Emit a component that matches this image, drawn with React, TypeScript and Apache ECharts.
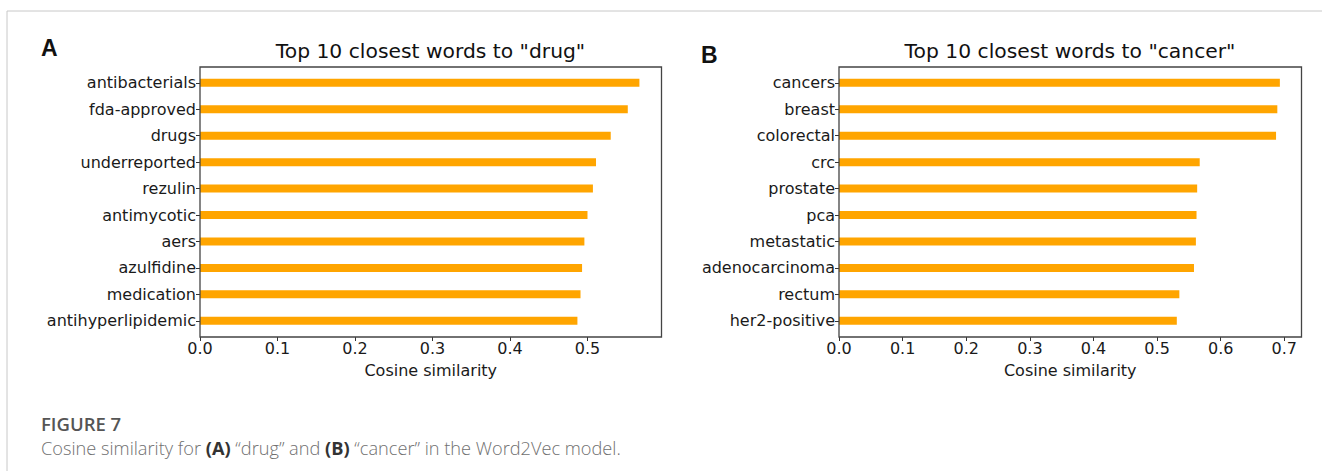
import React, { useEffect, useRef } from "react";
import * as echarts from "echarts";

const leftCategories = ["antibacterials", "fda-approved", "drugs", "underreported", "rezulin", "antimycotic", "aers", "azulfidine", "medication", "antihyperlipidemic"];
const leftValues = [0.567, 0.552, 0.530, 0.511, 0.507, 0.500, 0.496, 0.493, 0.491, 0.487];
const rightCategories = ["cancers", "breast", "colorectal", "crc", "prostate", "pca", "metastatic", "adenocarcinoma", "rectum", "her2-positive"];
const rightValues = [0.693, 0.689, 0.687, 0.567, 0.563, 0.562, 0.561, 0.558, 0.535, 0.531];
const leftTitle = 'Top 10 closest words to "drug"';
const rightTitle = 'Top 10 closest words to "cancer"';
const axisTitle = "Cosine similarity";
const leftMax = 0.5955;
const rightMax = 0.727;

const FONT = "DejaVu Sans";
const BAR = "#FFA500";

export default function App() {
  const ref = useRef<HTMLDivElement>(null);
  useEffect(() => {
    document.body.style.margin = "0";
    const chart = echarts.init(ref.current!, null, { renderer: "svg" });
    const grids = [
      { left: 200, top: 69.6, width: 461.5, height: 264.4 },
      { left: 839, top: 69.6, width: 462.5, height: 264.4 },
    ];
    const mkX = (i: number, max: number) => ({
      gridIndex: i,
      type: "value",
      min: 0,
      max,
      interval: 0.1,
      offset: 3,
      axisLine: { show: false },
      axisTick: { show: true, length: 4, lineStyle: { color: "#333", width: 1 } },
      axisLabel: { formatter: (v: number) => v.toFixed(1), fontSize: 16, color: "#1a1a1a", margin: 3, fontFamily: FONT, showMaxLabel: false },
      splitLine: { show: false },
      name: axisTitle,
      nameLocation: "middle",
      nameGap: 25,
      nameTextStyle: { fontSize: 16, color: "#1a1a1a", fontFamily: FONT },
    });
    const mkY = (i: number, cats: string[]) => ({
      gridIndex: i,
      type: "category",
      inverse: true,
      data: cats,
      axisLine: { show: false },
      axisTick: { show: true, length: 4, alignWithLabel: true, lineStyle: { color: "#333", width: 1 } },
      axisLabel: { fontSize: 16, color: "#1a1a1a", margin: 4, fontFamily: FONT },
      splitLine: { show: false },
    });
    const box = (g: any) => ({
      type: "rect",
      shape: { x: g.left, y: 67, width: g.width, height: 270 },
      style: { fill: "none", stroke: "#444", lineWidth: 1.3 },
      z: 10,
    });
    chart.setOption({
      animation: false,
      grid: grids,
      xAxis: [mkX(0, leftMax), mkX(1, rightMax)],
      yAxis: [mkY(0, leftCategories), mkY(1, rightCategories)],
      series: [
        { type: "bar", xAxisIndex: 0, yAxisIndex: 0, data: leftValues, barWidth: 8, itemStyle: { color: BAR } },
        { type: "bar", xAxisIndex: 1, yAxisIndex: 1, data: rightValues, barWidth: 8, itemStyle: { color: BAR } },
      ],
      graphic: [
        { type: "line", shape: { x1: 7, y1: 11, x2: 1322, y2: 11 }, style: { stroke: "#c8c8c8", lineWidth: 1 } },
        { type: "line", shape: { x1: 7, y1: 11, x2: 7, y2: 471 }, style: { stroke: "#c8c8c8", lineWidth: 1 } },
        box(grids[0]),
        box(grids[1]),
        { type: "text", x: 430.5, y: 51, style: { text: leftTitle, fontSize: 20.3, fontFamily: FONT, fill: "#111", textAlign: "center", textVerticalAlign: "middle" } },
        { type: "text", x: 1070, y: 51, style: { text: rightTitle, fontSize: 20.3, fontFamily: FONT, fill: "#111", textAlign: "center", textVerticalAlign: "middle" } },
        { type: "text", x: 41, y: 48, style: { text: "A", fontSize: 23, fontWeight: "bold", fontFamily: "Liberation Sans", fill: "#111", textVerticalAlign: "middle" } },
        { type: "text", x: 701, y: 55, style: { text: "B", fontSize: 23, fontWeight: "bold", fontFamily: "Liberation Sans", fill: "#111", textVerticalAlign: "middle" } },
        { type: "text", x: 41, y: 423, style: { text: "FIGURE 7", fontSize: 18.5, fontWeight: 600, fontFamily: "Open Sans", fill: "#555", textVerticalAlign: "middle" } },
        {
          type: "text", x: 41, y: 448,
          style: {
            text: "{n|Cosine similarity for }{b|(A)}{n| \u201cdrug\u201d and }{b|(B)}{n| \u201ccancer\u201d in the Word2Vec model.}",
            textVerticalAlign: "middle",
            rich: {
              n: { fontSize: 18.2, fontFamily: "Open Sans", fill: "#707070", fontWeight: 300 },
              b: { fontSize: 18.2, fontFamily: "Open Sans", fill: "#333", fontWeight: "bold" },
            },
          },
        },
      ],
    });
    return () => chart.dispose();
  }, []);
  return <div ref={ref} style={{ width: 1322, height: 471 }} />;
}
